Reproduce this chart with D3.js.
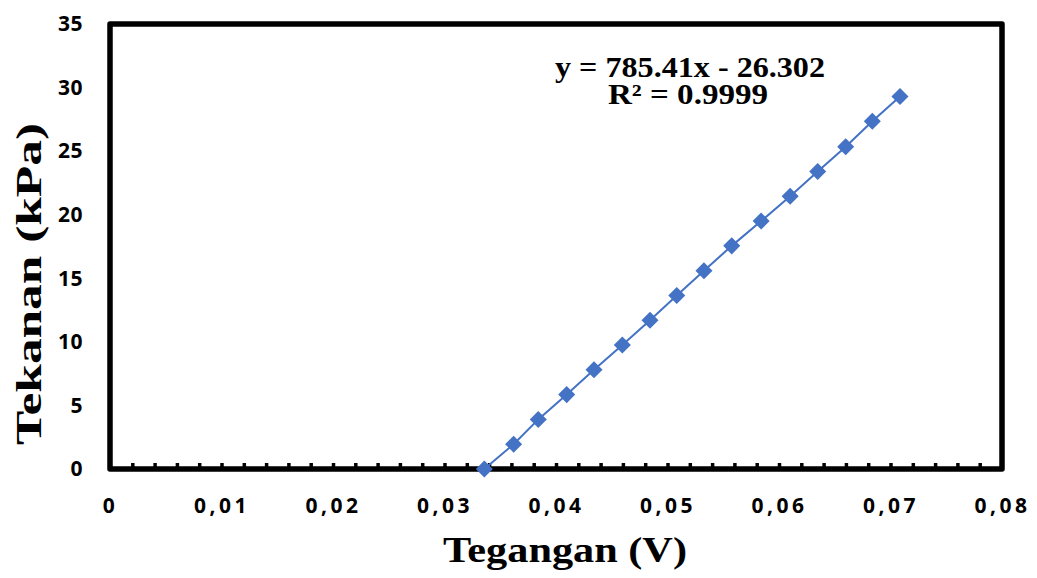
<!DOCTYPE html>
<html>
<head>
<meta charset="utf-8">
<script src="https://cdn.jsdelivr.net/npm/d3@7/dist/d3.min.js"></script>
<style>
  html, body { margin: 0; padding: 0; background: #fff; }
  svg { display: block; }
</style>
</head>
<body>
<svg id="chart" width="1037" height="578"></svg>
<script>
// Data
const voltage = [0.03357, 0.03620, 0.03841, 0.04096, 0.04341, 0.04595, 0.04843, 0.05083,
                 0.05327, 0.05576, 0.05840, 0.06100, 0.06347, 0.06598, 0.06837, 0.07085];
const pressure = [0, 1.95, 3.9, 5.85, 7.8, 9.75, 11.7, 13.65,
                  15.6, 17.55, 19.5, 21.45, 23.4, 25.35, 27.35, 29.3];
const xTicks = [0, 0.01, 0.02, 0.03, 0.04, 0.05, 0.06, 0.07, 0.08];
const yTicks = [0, 5, 10, 15, 20, 25, 30, 35];
const xTitle = "Tegangan (V)";
const yTitle = "Tekanan (kPa)";
const eqLine1 = "y = 785.41x - 26.302";
const eqLine2 = "R² = 0.9999";

(function () {
const svg = d3.select("#chart");
const mLeft = 110, mRight = 1002, mTop = 24, mBottom = 469;

const x = d3.scaleLinear().domain([0, 0.08]).range([mLeft, mRight]);
const y = d3.scaleLinear().domain([0, 35]).range([mBottom, mTop]);

const blue = "#4472C4";

// Plot frame
svg.append("rect")
  .attr("x", mLeft).attr("y", mTop)
  .attr("width", mRight - mLeft).attr("height", mBottom - mTop)
  .attr("fill", "none").attr("stroke", "#000").attr("stroke-width", 5.5)
  .attr("stroke-linejoin", "round");

// X axis with inner minor ticks
const minorTicks = d3.range(1, 40).map(i => i * 0.002);
const xAxis = d3.axisBottom(x).tickValues(minorTicks).tickSize(-6).tickFormat("");
const gx = svg.append("g").attr("transform", `translate(0,${mBottom})`).call(xAxis);
gx.select(".domain").remove();
gx.selectAll(".tick line").attr("stroke", "#000").attr("stroke-width", 3.5);

// X tick labels
const xLab = d3.axisBottom(x).tickValues(xTicks).tickSize(0)
  .tickFormat(d => d === 0 ? "0" : d3.format(".2f")(d).replace(".", ","));
const gxl = svg.append("g").attr("transform", `translate(0,${mBottom + 26})`).call(xLab);
gxl.select(".domain").remove();
gxl.selectAll("text")
  .attr("font-family", "'Open Sans', sans-serif").attr("font-weight", "bold")
  .attr("font-size", 21).attr("letter-spacing", 3.5).attr("fill", "#000");

// Y tick labels
const yLab = d3.axisLeft(y).tickValues(yTicks).tickSize(0).tickFormat(d3.format("d"));
const gyl = svg.append("g").attr("transform", `translate(${mLeft - 24},0)`).call(yLab);
gyl.select(".domain").remove();
gyl.selectAll("text")
  .attr("font-family", "'Open Sans', sans-serif").attr("font-weight", "bold")
  .attr("font-size", 21).attr("letter-spacing", 0.5).attr("fill", "#000");

// Trend line
const line = d3.line().x((d, i) => x(voltage[i])).y(d => y(d));
svg.append("path")
  .datum(pressure)
  .attr("d", line)
  .attr("fill", "none").attr("stroke", blue).attr("stroke-width", 2);

// Diamond markers
const sym = d3.symbol().type(d3.symbolSquare).size(145);
svg.append("g").selectAll("path")
  .data(pressure)
  .join("path")
  .attr("d", sym)
  .attr("transform", (d, i) => `translate(${x(voltage[i])},${y(d)}) rotate(45)`)
  .attr("fill", blue);

// Equation text
svg.append("text")
  .attr("x", 690).attr("y", 77).attr("text-anchor", "middle")
  .attr("font-family", "'Liberation Serif', 'Times New Roman', serif")
  .attr("font-weight", "bold").attr("font-size", 29)
  .attr("textLength", 270).attr("lengthAdjust", "spacingAndGlyphs")
  .text(eqLine1);
svg.append("text")
  .attr("x", 688).attr("y", 104).attr("text-anchor", "middle")
  .attr("font-family", "'Liberation Serif', 'Times New Roman', serif")
  .attr("font-weight", "bold").attr("font-size", 29)
  .attr("textLength", 160).attr("lengthAdjust", "spacingAndGlyphs")
  .text(eqLine2);

// Axis titles
svg.append("text")
  .attr("x", 565).attr("y", 562).attr("text-anchor", "middle")
  .attr("font-family", "'Liberation Serif', 'Times New Roman', serif")
  .attr("font-weight", "bold").attr("font-size", 35)
  .attr("textLength", 244).attr("lengthAdjust", "spacingAndGlyphs")
  .text(xTitle);
svg.append("text")
  .attr("transform", "translate(41,284) rotate(-90)")
  .attr("text-anchor", "middle")
  .attr("font-family", "'Liberation Serif', 'Times New Roman', serif")
  .attr("font-weight", "bold").attr("font-size", 35)
  .attr("textLength", 322).attr("lengthAdjust", "spacingAndGlyphs")
  .text(yTitle);
})();
</script>
</body>
</html>
